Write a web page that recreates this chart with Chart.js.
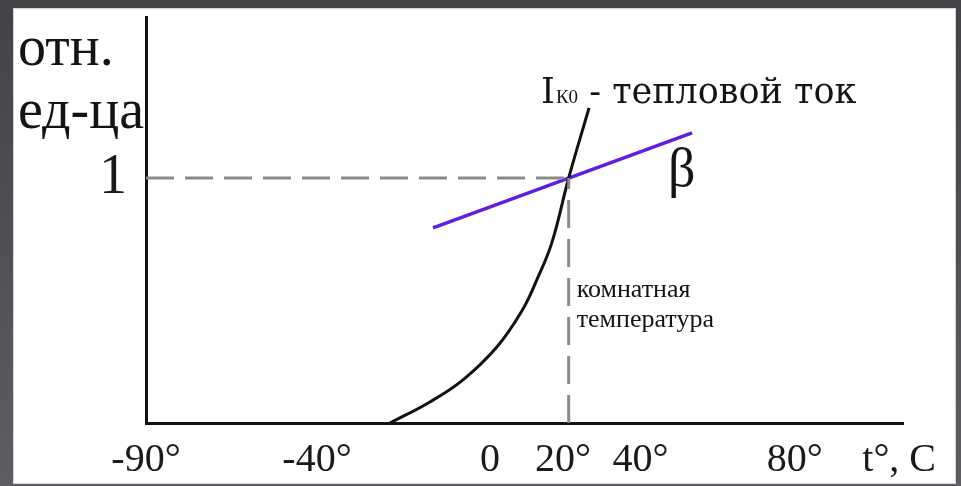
<!DOCTYPE html>
<html>
<head>
<meta charset="utf-8">
<script src="https://cdn.jsdelivr.net/npm/chart.js@4"></script>
<style>
  html, body { margin: 0; padding: 0; }
  body {
    width: 961px; height: 486px; overflow: hidden; position: relative;
    background: linear-gradient(to bottom, #434247, #5e5d62);
  }
  #frame {
    position: absolute; left: 13px; top: 8px; width: 941px; height: 474px;
    background: #fff; border: 1px solid #d4d4d4;
  }
  #chart { display: block; }
</style>
</head>
<body>
<div id="frame"><canvas id="chart" width="941" height="474"></canvas></div>
<script>
// I_K0 - thermal current (relative units) vs temperature
var currentTemps  = [-26.5, -16.1, -7.5, 1.3, 7.8, 11.7, 15.6, 20.0, 25.3];
var currentValues = [0, 0.086, 0.176, 0.31, 0.457, 0.584, 0.735, 1.0, 1.286];

// beta (current gain), relative units
var betaTemps  = [-15.3, 52.1];
var betaValues = [0.796, 1.184];

// room temperature reference point
var roomTemp = 20;
var refLevel = 1;

var xMin = -90, xMax = 107;
var yMin = 0, yMax = 1.657;

// where the tick labels sit on the axis, and their text
var xTickPositions = [-90, -45.5, -0.5, 18.5, 38.7, 78.8, 106];
var xTickLabels = ['-90°', '-40°', '0', '20°', '40°', '80°', 't°, C'];
var yTickValues = [1];
var yTickLabels = ['1'];

function toPoints(xs, ys) {
    return xs.map(function (x, i) { return { x: x, y: ys[i] }; });
}

var textPlugin = {
    id: 'textLabels',
    afterDraw: function (chart) {
        var ctx = chart.ctx;
        var xs = chart.scales.x, ys = chart.scales.y;
        ctx.save();
        ctx.fillStyle = '#141414';
        ctx.textBaseline = 'alphabetic';
        ctx.textAlign = 'left';

        // y axis title
        ctx.font = '56px "Liberation Serif"';
        ctx.fillText('отн.', 4, 56);
        ctx.fillText('ед-ца', 4, 119);

        // I_K0 label near the top of the current curve
        var n = currentTemps.length - 1;
        var cx = xs.getPixelForValue(currentTemps[n]) - 48;
        var cy = ys.getPixelForValue(currentValues[n]) - 5;
        ctx.font = '35px "DejaVu Serif"';
        ctx.fillText('I', cx, cy);
        cx += ctx.measureText('I').width + 1;
        ctx.font = '19px "Liberation Serif"';
        ctx.fillText('К0', cx, cy);
        cx += ctx.measureText('К0').width;
        ctx.font = '35px "DejaVu Serif"';
        ctx.fillText(' - тепловой ток', cx, cy);

        // beta label
        var bx = xs.getPixelForValue(betaTemps[1]) - 24;
        var by = ys.getPixelForValue(betaValues[1]) + 53;
        ctx.font = '54px "Liberation Serif"';
        ctx.fillText('β', bx, by);

        // room temperature note
        var rx = xs.getPixelForValue(roomTemp) + 8;
        ctx.font = '26px "Liberation Serif"';
        ctx.fillText('комнатная', rx, 288);
        ctx.fillText('температура', rx, 318);
        ctx.restore();
    }
};

new Chart(document.getElementById('chart'), {
    type: 'line',
    data: {
        datasets: [
            {
                data: [{ x: xMin, y: refLevel }, { x: roomTemp, y: refLevel }],
                borderColor: '#8a8a8a', borderWidth: 3,
                borderDash: [28, 11], pointRadius: 0
            },
            {
                data: [{ x: roomTemp, y: yMin }, { x: roomTemp, y: refLevel }],
                borderColor: '#8a8a8a', borderWidth: 3,
                borderDash: [28, 11], pointRadius: 0
            },
            {
                data: toPoints(currentTemps, currentValues),
                borderColor: '#121212', borderWidth: 3,
                tension: 0.4, pointRadius: 0
            },
            {
                data: toPoints(betaTemps, betaValues),
                borderColor: '#5f1fe0', borderWidth: 3.5,
                pointRadius: 0
            }
        ]
    },
    options: {
        responsive: false,
        animation: false,
        layout: { padding: { top: 8, right: 52, left: 0, bottom: 0 } },
        plugins: {
            legend: { display: false },
            tooltip: { enabled: false }
        },
        scales: {
            x: {
                type: 'linear', min: xMin, max: xMax,
                grid: { display: false },
                border: { display: true, color: '#111', width: 3 },
                ticks: {
                    autoSkip: false, maxRotation: 0, padding: 5,
                    color: '#1a1a1a',
                    font: { family: '"Liberation Serif"', size: 40 },
                    callback: function (v) {
                        var i = xTickPositions.indexOf(v);
                        return i < 0 ? '' : xTickLabels[i];
                    }
                },
                afterBuildTicks: function (s) {
                    s.ticks = xTickPositions.map(function (v) { return { value: v }; });
                },
                afterFit: function (s) {
                    s.height = 60;
                    s.paddingLeft = 0; s.paddingRight = 0;
                }
            },
            y: {
                type: 'linear', min: yMin, max: yMax,
                grid: { display: false },
                border: { display: true, color: '#111', width: 3 },
                ticks: {
                    padding: 11, color: '#1a1a1a',
                    font: { family: '"Liberation Serif"', size: 56 },
                    callback: function (v) {
                        var i = yTickValues.indexOf(v);
                        return i < 0 ? '' : yTickLabels[i];
                    }
                },
                afterBuildTicks: function (s) {
                    s.ticks = yTickValues.map(function (v) { return { value: v }; });
                },
                afterFit: function (s) {
                    s.width = 132;
                    s.paddingTop = 0; s.paddingBottom = 0;
                }
            }
        }
    },
    plugins: [textPlugin]
});
</script>
</body>
</html>
